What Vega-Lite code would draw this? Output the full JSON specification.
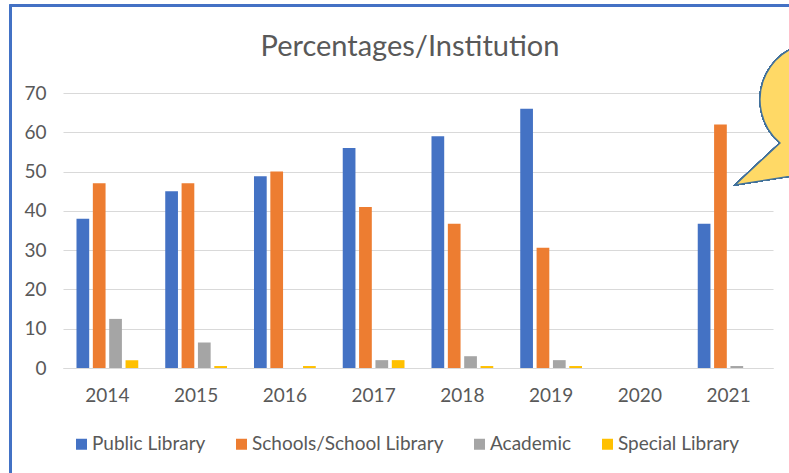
{
  "$schema": "https://vega.github.io/schema/vega-lite/v6.json",
  "width": 710,
  "height": 275,
  "autosize": {"type": "none"},
  "padding": {"left": 63, "top": 93, "right": 16, "bottom": 105},
  "background": "white",
  "title": {"text": "Percentages/Institution", "frame": "group", "anchor": "middle", "offset": -59.6, "dx": -8, "font": "Lato", "fontSize": 29, "fontWeight": "normal", "color": "#595959"},
  "data": {"values": [
    {"year": "2014", "institution": "Public Library", "pct": 38},
    {"year": "2014", "institution": "Schools/School Library", "pct": 47},
    {"year": "2014", "institution": "Academic", "pct": 12.5},
    {"year": "2014", "institution": "Special Library", "pct": 2},
    {"year": "2015", "institution": "Public Library", "pct": 45},
    {"year": "2015", "institution": "Schools/School Library", "pct": 47},
    {"year": "2015", "institution": "Academic", "pct": 6.5},
    {"year": "2015", "institution": "Special Library", "pct": 0.5},
    {"year": "2016", "institution": "Public Library", "pct": 48.8},
    {"year": "2016", "institution": "Schools/School Library", "pct": 50},
    {"year": "2016", "institution": "Academic", "pct": 0},
    {"year": "2016", "institution": "Special Library", "pct": 0.5},
    {"year": "2017", "institution": "Public Library", "pct": 56},
    {"year": "2017", "institution": "Schools/School Library", "pct": 41},
    {"year": "2017", "institution": "Academic", "pct": 2},
    {"year": "2017", "institution": "Special Library", "pct": 2},
    {"year": "2018", "institution": "Public Library", "pct": 59},
    {"year": "2018", "institution": "Schools/School Library", "pct": 36.7},
    {"year": "2018", "institution": "Academic", "pct": 3},
    {"year": "2018", "institution": "Special Library", "pct": 0.5},
    {"year": "2019", "institution": "Public Library", "pct": 66},
    {"year": "2019", "institution": "Schools/School Library", "pct": 30.6},
    {"year": "2019", "institution": "Academic", "pct": 2},
    {"year": "2019", "institution": "Special Library", "pct": 0.5},
    {"year": "2021", "institution": "Public Library", "pct": 36.7},
    {"year": "2021", "institution": "Schools/School Library", "pct": 62},
    {"year": "2021", "institution": "Academic", "pct": 0.5},
    {"year": "2021", "institution": "Special Library", "pct": 0}
  ]},
  "layer": [
    {
      "mark": {"type": "bar", "strokeWidth": 0},
      "encoding": {
        "x": {
          "field": "year", "type": "nominal", "title": null,
          "scale": {"domain": ["2014", "2015", "2016", "2017", "2018", "2019", "2020", "2021"], "paddingInner": 0.304, "paddingOuter": 0.152},
          "axis": {"labelAngle": 0, "ticks": false, "tickSize": 0, "labelPadding": 18, "grid": false}
        },
        "xOffset": {
          "field": "institution", "type": "nominal",
          "sort": ["Public Library", "Schools/School Library", "Academic", "Special Library"],
          "scale": {"domain": ["Public Library", "Schools/School Library", "Academic", "Special Library"], "paddingInner": 0.222, "paddingOuter": 0}
        },
        "y": {
          "field": "pct", "type": "quantitative", "title": null,
          "scale": {"domain": [0, 70], "nice": false},
          "axis": {"values": [0, 10, 20, 30, 40, 50, 60, 70], "tickCount": 8, "labelOverlap": false, "ticks": false, "tickSize": 0, "labelPadding": 17, "domain": false, "grid": true}
        },
        "color": {
          "field": "institution", "type": "nominal",
          "sort": ["Public Library", "Schools/School Library", "Academic", "Special Library"],
          "scale": {"domain": ["Public Library", "Schools/School Library", "Academic", "Special Library"], "range": ["#4472C4", "#ED7D31", "#A5A5A5", "#FFC000"]},
          "legend": {"title": null, "orient": "none", "legendX": 9, "legendY": 341.5, "direction": "horizontal", "symbolType": "square", "symbolSize": 121, "symbolStrokeWidth": 0, "labelFont": "Lato", "labelFontSize": 19, "labelColor": "#595959", "labelLimit": 0, "columnPadding": 26, "labelOffset": 1, "padding": 0}
        }
      }
    },
    {
      "mark": {"type": "point", "shape": "M0.064,0.016 L0.514,-0.404 A0.57,0.57 0 1 1 1.454,-0.834 L1.454,-0.204 Z", "size": 40000, "filled": true, "fill": "#FFD966", "stroke": "#41719C", "strokeWidth": 1.3, "opacity": 1},
      "encoding": {
        "x": {"datum": "2021", "axis": {"labelAngle": 0, "ticks": false, "tickSize": 0, "labelPadding": 18, "grid": false}},
        "y": {"datum": 47, "axis": {"values": [0, 10, 20, 30, 40, 50, 60, 70], "tickCount": 8, "labelOverlap": false, "ticks": false, "tickSize": 0, "labelPadding": 17, "domain": false, "grid": true}}
      }
    },
    {
      "mark": {"type": "point", "shape": "M-0.9685,4 L-0.9685,-0.875 L7,-0.875", "size": 40000, "filled": false, "stroke": "#4472C4", "strokeWidth": 1.5, "opacity": 1},
      "encoding": {
        "x": {"datum": "2014", "axis": {"labelAngle": 0, "ticks": false, "tickSize": 0, "labelPadding": 18, "grid": false}},
        "y": {"datum": 70, "axis": {"values": [0, 10, 20, 30, 40, 50, 60, 70], "tickCount": 8, "labelOverlap": false, "ticks": false, "tickSize": 0, "labelPadding": 17, "domain": false, "grid": true}}
      }
    }
  ],
  "config": {
    "view": {"stroke": null},
    "axis": {"labelFont": "Lato", "labelFontSize": 19, "labelColor": "#595959", "domainColor": "#D9D9D9", "domainWidth": 1, "gridColor": "#D9D9D9", "gridWidth": 1}
  }
}
